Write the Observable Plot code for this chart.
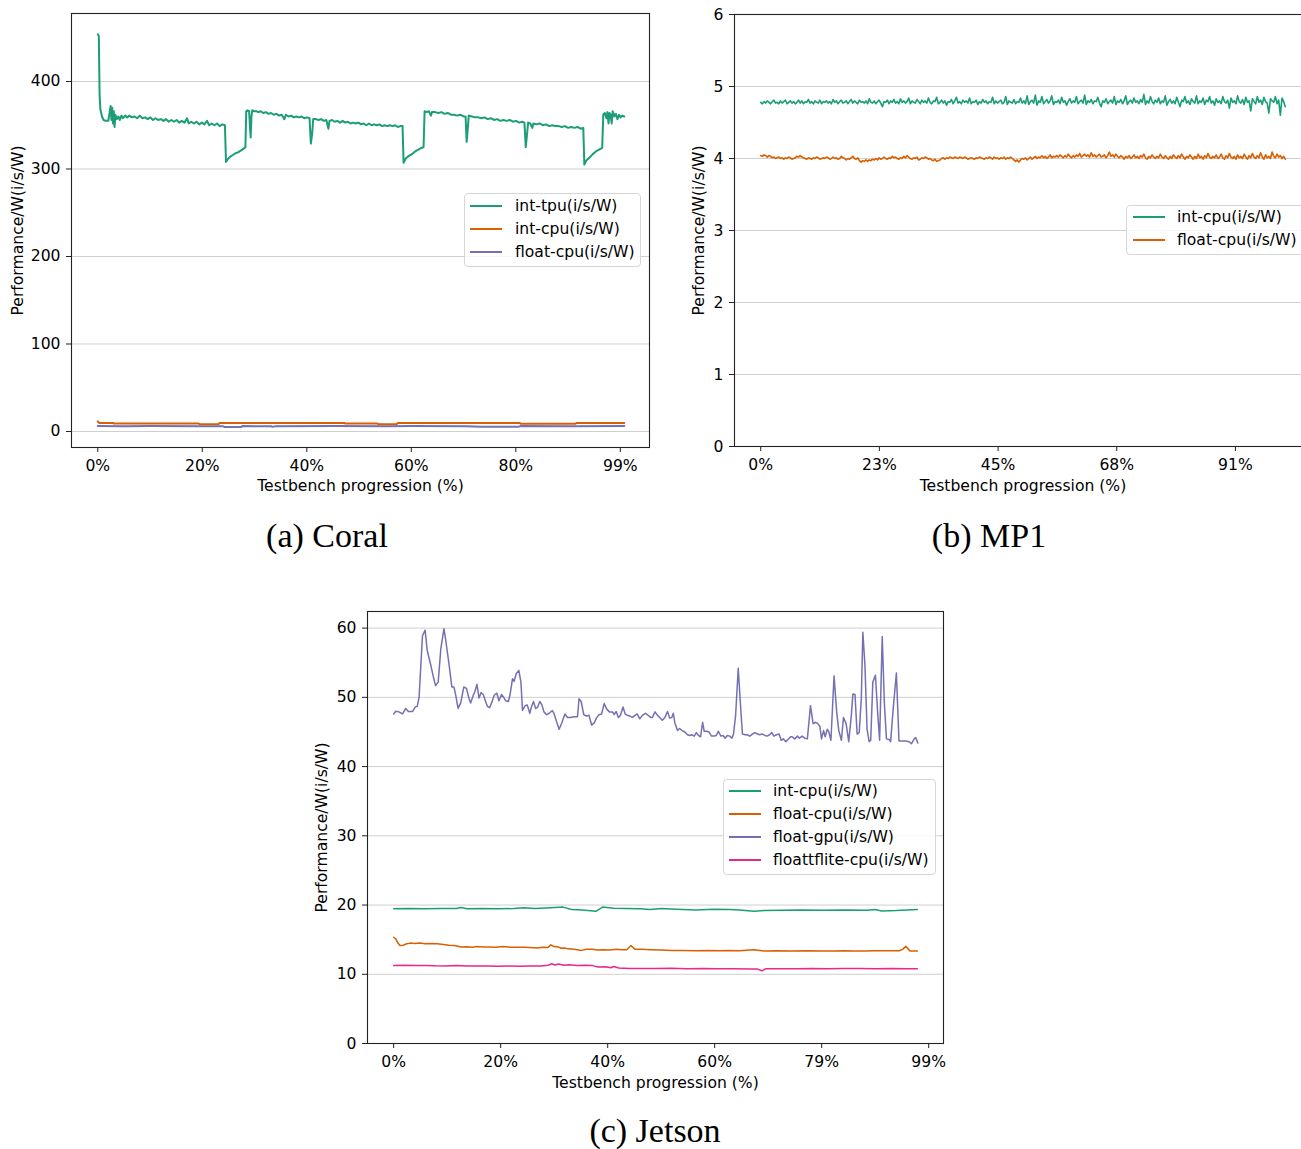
<!DOCTYPE html>
<html><head><meta charset="utf-8">
<script src="https://cdn.jsdelivr.net/npm/d3@7"></script>
<script src="https://cdn.jsdelivr.net/npm/@observablehq/plot@0.6"></script>
<style>
html,body{margin:0;padding:0;background:#fff;}
body{width:1301px;height:1149px;overflow:hidden;position:relative;font-family:"DejaVu Sans",sans-serif;}
.panel{position:absolute;width:660px;height:500px;}
.caption{position:absolute;font-family:"Liberation Serif","Times New Roman",serif;font-size:34px;line-height:34px;white-space:nowrap;transform:translateX(-50%);color:#000;}
.legend{position:absolute;box-sizing:border-box;border:1px solid #d6d6d6;border-radius:4px;background:rgba(255,255,255,0.8);}
.legend .sw{position:absolute;height:2px;}
.legend .lb{position:absolute;font-size:15.6px;line-height:16px;white-space:nowrap;color:#000;}
</style></head><body>
<div id="pa" class="panel" style="left:0;top:0"></div>
<div id="pb" class="panel" style="left:663px;top:0"></div>
<div id="pc" class="panel" style="left:296px;top:598px"></div>
<div class="caption" style="left:327px;top:519px">(a) Coral</div>
<div class="caption" style="left:989px;top:519px">(b) MP1</div>
<div class="caption" style="left:655px;top:1114px">(c) Jetson</div>
<script>
// ---------- DATA ----------
const xLabel = "Testbench progression (%)";
const yLabel = "Performance/W(i/s/W)";

// (a) Coral
const coralXTicks = [0, 19.89, 39.78, 59.67, 79.56, 99.45];
const coralXTickLabels = ["0%", "20%", "40%", "60%", "80%", "99%"];
const coralYTicks = [0, 100, 200, 300, 400];
const coralIntTpu = [[0,454],[0.2,452],[0.35,384],[0.5,368],[0.8,360],[1.1,356],[1.5,355],[2.0,355],[2.3,366],[2.45,372],[2.6,356],[2.75,370],[2.9,352],[3.05,366],[3.2,348],[3.35,362],[3.6,357],[3.9,360],[4.2,356],[4.5,361],[4.8,358],[5.2,361],[5.6,359],[6.0,361],[6.5,359],[7.0,360],[7.5,358],[8.0,361],[8.5,358],[9.0,359],[9.5,357],[10.0,359],[10.5,356],[11.0,358],[11.5,356],[12.0,357],[12.5,355],[13.0,357],[13.5,354],[14.0,356],[14.5,354],[15.0,356],[15.5,353],[16.0,355],[16.5,353],[17.0,358],[17.3,352],[17.8,354],[18.3,352],[18.8,354],[19.3,351],[19.8,353],[20.3,351],[20.8,355],[21.2,350],[21.7,352],[22.2,350],[22.7,352],[23.2,349],[23.7,351],[24.2,350],[24.4,308],[24.7,311],[25.2,314],[25.7,316],[26.2,318],[26.7,319],[27.2,321],[27.7,323],[28.1,325],[28.25,366],[28.5,367],[28.8,366],[29.0,345],[29.1,336],[29.25,360],[29.4,367],[29.8,366],[30.2,366],[30.6,365],[31.0,366],[31.5,364],[32.0,365],[32.5,363],[33.0,364],[33.5,362],[34.0,363],[34.5,361],[35.0,362],[35.5,357],[35.8,362],[36.3,360],[36.8,361],[37.3,359],[37.8,360],[38.3,359],[38.8,360],[39.3,358],[39.8,359],[40.3,358],[40.55,329],[40.8,340],[41.0,357],[41.5,357],[42.0,356],[42.5,357],[43.0,355],[43.5,356],[43.9,346],[44.1,355],[44.6,356],[45.1,354],[45.6,355],[46.1,353],[46.6,355],[47.1,353],[47.6,354],[48.1,352],[48.6,353],[49.1,352],[49.6,353],[50.1,351],[50.6,352],[51.1,350],[51.6,352],[52.1,350],[52.6,351],[53.1,350],[53.6,351],[54.1,349],[54.6,350],[55.1,349],[55.6,350],[56.1,349],[56.6,350],[57.1,348],[57.6,349],[58.0,349],[58.2,307],[58.6,312],[59.2,315],[59.8,317],[60.4,320],[61.0,322],[61.6,324],[62.0,325],[62.2,366],[62.6,365],[63.0,366],[63.4,361],[63.6,365],[64.2,365],[64.8,364],[65.4,365],[66.0,363],[66.6,364],[67.2,362],[67.8,362],[68.4,361],[69.0,362],[69.6,360],[70.0,360],[70.2,331],[70.4,345],[70.6,361],[71.2,360],[71.8,359],[72.4,359],[73.0,358],[73.6,359],[74.2,357],[74.8,358],[75.4,356],[76.0,357],[76.6,355],[77.2,356],[77.8,355],[78.4,356],[79.0,354],[79.6,355],[80.2,353],[80.8,354],[81.2,353],[81.45,325],[81.7,340],[81.9,353],[82.3,352],[82.7,347],[82.9,352],[83.5,351],[84.1,352],[84.7,350],[85.3,351],[85.9,349],[86.5,350],[87.1,349],[87.7,349],[88.3,348],[88.9,349],[89.5,347],[90.1,348],[90.7,347],[91.3,348],[91.9,346],[92.4,347],[92.6,305],[93.0,310],[93.6,313],[94.2,317],[94.8,320],[95.4,322],[96.0,324],[96.2,362],[96.5,364],[96.8,358],[97.0,365],[97.2,352],[97.4,364],[97.6,362],[97.8,352],[98.0,366],[98.3,360],[98.6,363],[98.9,357],[99.2,362],[99.5,359],[99.8,361],[100.2,360]];
const coralIntCpu = [[0,11.5],[0.3,9.8],[1,9.8],[2.9,9.8],[3.1,9.0],[10,9.1],[19.2,9.0],[19.4,8.3],[23.0,8.3],[23.2,9.8],[35,9.7],[46.9,9.8],[47.1,9.0],[53.2,9.0],[53.4,8.3],[56.9,8.3],[57.1,9.8],[70,9.7],[80.3,9.8],[80.5,8.8],[90.9,8.8],[91.1,9.8],[100.2,9.8]];
const coralFloatCpu = [[0,6.2],[5,6.0],[10,6.2],[20,6.0],[23.9,6.0],[24.1,5.2],[27.3,5.2],[27.5,6.2],[33,6.0],[33.3,5.3],[33.8,6.1],[45,6.2],[55,6.0],[60,6.2],[70,6.0],[73,5.4],[80,5.3],[80.5,6.2],[90,6.0],[100.2,6.2]];

// (b) MP1
const mp1XTicks = [0, 22.62, 45.25, 67.87, 90.5];
const mp1XTickLabels = ["0%", "23%", "45%", "68%", "91%"];
const mp1YTicks = [0, 1, 2, 3, 4, 5, 6];
const mp1IntCpu = [
4.78,4.76,4.79,4.77,4.80,4.78,4.76,4.79,4.81,4.77,4.78,4.76,4.80,4.77,4.79,4.81,4.76,4.78,4.80,4.77,
4.79,4.76,4.78,4.81,4.77,4.80,4.76,4.79,4.78,4.82,4.77,4.79,4.76,4.80,4.78,4.77,4.81,4.76,4.79,4.78,
4.80,4.77,4.79,4.76,4.82,4.78,4.80,4.76,4.79,4.81,4.77,4.78,4.80,4.76,4.79,4.82,4.77,4.80,4.78,4.76,
4.81,4.78,4.79,4.77,4.80,4.76,4.83,4.78,4.77,4.80,4.76,4.79,4.81,4.77,4.72,4.79,4.78,4.81,4.76,4.80,
4.78,4.82,4.77,4.79,4.76,4.83,4.78,4.80,4.77,4.79,4.84,4.76,4.80,4.78,4.77,4.82,4.79,4.76,4.81,4.78,
4.80,4.77,4.84,4.78,4.76,4.80,4.79,4.85,4.76,4.78,4.81,4.77,4.80,4.74,4.79,4.78,4.82,4.76,4.80,4.85,
4.77,4.79,4.76,4.81,4.78,4.80,4.77,4.84,4.76,4.79,4.78,4.81,4.75,4.79,4.77,4.82,4.78,4.80,4.76,4.79,
4.78,4.85,4.76,4.80,4.77,4.79,4.81,4.76,4.78,4.86,4.75,4.80,4.78,4.77,4.82,4.76,4.79,4.78,4.84,4.77,
4.80,4.76,4.87,4.75,4.79,4.81,4.77,4.88,4.74,4.80,4.78,4.86,4.76,4.79,4.82,4.77,4.80,4.87,4.75,4.79,
4.78,4.81,4.76,4.85,4.78,4.80,4.74,4.79,4.83,4.77,4.80,4.78,4.86,4.76,4.79,4.81,4.77,4.88,4.75,4.80,
4.78,4.82,4.76,4.80,4.79,4.85,4.77,4.72,4.80,4.78,4.83,4.76,4.79,4.81,4.77,4.86,4.75,4.80,4.78,4.82,
4.76,4.80,4.87,4.75,4.79,4.81,4.77,4.84,4.78,4.80,4.76,4.82,4.78,4.89,4.75,4.80,4.77,4.86,4.79,4.76,
4.81,4.78,4.84,4.76,4.80,4.78,4.87,4.74,4.79,4.82,4.77,4.80,4.76,4.85,4.78,4.72,4.81,4.79,4.86,4.77,
4.80,4.75,4.83,4.79,4.77,4.87,4.76,4.80,4.78,4.84,4.75,4.81,4.79,4.86,4.77,4.80,4.74,4.83,4.78,4.80,
4.76,4.86,4.79,4.77,4.81,4.70,4.84,4.78,4.80,4.76,4.87,4.79,4.77,4.82,4.75,4.85,4.78,4.80,4.66,4.83,
4.79,4.76,4.86,4.78,4.81,4.75,4.85,4.79,4.77,4.63,4.83,4.80,4.78,4.86,4.76,4.81,4.60,4.84,4.79,4.72];
const mp1FloatCpu = [
4.04,4.03,4.05,4.04,4.02,4.04,4.03,4.01,4.02,4.00,4.01,4.02,4.00,4.01,3.99,4.01,4.00,4.02,4.01,3.99,
4.00,4.01,4.03,4.02,4.04,4.02,4.01,4.00,3.99,4.01,4.00,3.99,4.01,4.00,4.02,4.01,3.99,4.00,4.01,4.00,
4.02,4.01,3.99,4.00,4.02,4.00,4.01,3.99,4.00,4.03,4.01,4.00,3.98,4.00,3.99,4.01,4.03,4.00,3.99,4.01,
3.97,3.95,3.97,3.96,3.98,3.96,3.98,3.97,3.99,3.98,4.00,3.98,4.01,3.99,4.00,4.02,4.00,3.99,4.01,4.00,
4.03,4.01,4.02,4.00,3.99,4.01,4.00,4.03,4.01,4.04,4.02,4.00,3.99,4.01,4.00,4.02,3.98,3.99,4.01,4.00,
4.02,4.01,3.99,4.00,3.98,3.97,3.99,3.96,3.97,3.98,4.00,4.01,3.99,4.01,4.00,4.02,4.01,4.00,4.02,4.01,
4.00,4.02,4.01,4.00,4.02,4.01,3.99,4.00,4.01,4.00,3.99,4.01,4.00,4.02,4.01,4.00,3.99,4.01,4.00,4.02,
4.01,3.99,4.02,4.00,4.01,3.99,4.01,4.00,4.02,3.99,4.01,4.00,4.02,4.00,3.98,3.96,3.98,3.95,3.98,4.00,
3.99,4.01,3.98,4.00,4.02,3.99,4.01,4.03,4.00,4.02,4.01,4.04,4.01,4.03,4.00,4.02,4.05,4.01,4.03,4.02,
4.04,4.02,4.05,4.03,4.01,4.04,4.02,4.06,4.03,4.01,4.04,4.02,4.05,4.03,4.07,4.02,4.04,4.06,4.03,4.05,
4.02,4.08,4.03,4.05,4.02,4.04,4.06,4.02,4.03,4.05,4.01,4.04,4.09,4.03,4.05,4.02,4.06,4.03,4.01,4.04,
4.02,3.99,4.03,4.01,4.04,4.00,4.02,4.05,4.01,4.03,4.00,4.04,4.02,4.06,4.01,3.99,4.03,4.01,4.05,4.02,
4.00,4.03,4.01,4.06,4.02,4.00,4.04,4.01,3.99,4.03,4.00,4.05,4.02,4.00,4.04,4.01,4.06,4.02,3.99,4.03,
4.01,4.05,4.02,3.99,4.03,4.00,4.06,4.01,4.03,3.99,4.04,4.01,4.07,4.02,4.00,4.03,4.01,4.05,4.00,4.02,
4.06,4.01,3.99,4.04,4.01,4.07,4.02,4.00,4.03,3.99,4.05,4.01,4.03,4.00,4.06,4.02,3.99,4.04,4.01,4.07,
4.02,4.00,4.04,4.01,4.08,4.02,3.99,4.05,4.01,4.03,4.00,4.09,4.03,4.01,4.06,4.02,4.04,4.00,4.03,3.99];

// (c) Jetson
const jetsonXTicks = [0, 20.43, 40.87, 61.3, 81.74, 102.17];
const jetsonXTickLabels = ["0%", "20%", "40%", "60%", "79%", "99%"];
const jetsonYTicks = [0, 10, 20, 30, 40, 50, 60];
const jetsonIntCpu = [[0,19.45],[3,19.5],[6,19.45],[9,19.5],[12,19.5],[12.9,19.65],[14,19.45],[17,19.5],[20,19.45],[23,19.5],[24.8,19.6],[27,19.5],[30,19.6],[32.3,19.7],[34,19.35],[36,19.3],[38.6,19.1],[39.9,19.7],[42,19.55],[44.5,19.5],[47,19.45],[49,19.35],[51.1,19.5],[54,19.4],[57.7,19.3],[61,19.4],[64.2,19.35],[66,19.3],[68.8,19.1],[70.8,19.2],[74,19.25],[78,19.3],[82,19.25],[86,19.3],[90.5,19.25],[91.9,19.35],[93.2,19.15],[96,19.2],[100,19.35]];
const jetsonFloatCpu = [[0,15.35],[0.4,15.1],[0.8,14.5],[1.2,14.15],[1.8,14.2],[2.5,14.4],[3.1,14.5],[4.0,14.45],[5.0,14.5],[6.0,14.42],[7.0,14.45],[8.3,14.4],[9.5,14.3],[10.5,14.2],[11.6,14.15],[12.9,13.95],[14,13.98],[15,13.92],[16,14.0],[17,13.95],[18.2,13.95],[19.5,13.9],[21,14.0],[22.5,13.9],[24.8,13.9],[26,13.85],[27.4,13.8],[28.5,13.9],[29.4,13.85],[30.0,14.25],[30.6,14.0],[31.4,13.95],[32,13.75],[32.6,13.8],[33.3,13.67],[34.5,13.6],[35.9,13.45],[36.8,13.6],[37.9,13.6],[39,13.5],[40,13.55],[41.2,13.5],[42.5,13.6],[43.5,13.55],[44.5,13.55],[45.3,14.15],[46.1,13.6],[47.5,13.6],[49,13.55],[51.1,13.5],[53,13.45],[55,13.45],[57.7,13.4],[60,13.45],[62,13.4],[64,13.45],[66,13.4],[68.8,13.55],[70.8,13.35],[73,13.4],[76,13.35],[79,13.38],[82,13.35],[84,13.35],[86,13.38],[88,13.35],[90,13.35],[92,13.38],[94,13.4],[96.5,13.4],[97.2,13.6],[97.8,14.05],[98.6,13.35],[100,13.35]];
const jetsonFloatGpu = [[0,47.6],[0.4,48.0],[1.0,47.9],[1.7,47.6],[2.3,48.4],[2.8,47.95],[3.6,47.95],[4.1,48.6],[4.5,48.7],[4.85,50.0],[5.5,58.9],[6.0,59.7],[6.4,56.8],[7.1,54.6],[7.5,53.2],[8.0,51.7],[8.5,52.2],[9.0,57.0],[9.6,59.9],[9.9,58.5],[10.6,54.6],[11.1,51.5],[11.5,51.5],[11.8,50.5],[12.3,48.4],[12.8,49.2],[13.4,51.5],[13.9,51.3],[14.4,49.8],[14.7,49.2],[15.2,50.3],[15.5,50.8],[15.9,51.9],[16.3,49.9],[16.7,50.7],[17.1,50.4],[17.6,49.3],[17.9,48.7],[18.3,48.5],[18.7,49.2],[19.2,50.3],[19.7,50.6],[20.1,49.5],[20.6,50.4],[21.1,49.9],[21.4,49.5],[21.9,49.4],[22.2,50.3],[22.7,52.7],[23.0,52.3],[23.4,53.4],[23.9,53.9],[24.3,52.2],[24.6,48.1],[25.1,48.8],[25.5,48.9],[26.0,47.7],[26.3,48.6],[26.7,49.4],[27.1,48.4],[27.5,48.6],[27.9,49.4],[28.3,48.9],[28.7,47.9],[29.2,47.5],[29.7,47.7],[30.3,48.1],[30.6,47.7],[31.1,46.5],[31.6,45.4],[32.1,46.3],[32.7,47.6],[33.2,47.1],[33.8,47.1],[34.4,47.2],[35.1,47.2],[35.4,49.8],[35.8,49.4],[36.3,47.5],[36.8,47.3],[37.3,47.4],[37.8,46.0],[38.3,46.3],[38.7,47.0],[39.2,47.5],[39.7,47.6],[40.2,49.1],[40.7,48.3],[41.2,47.9],[41.8,47.9],[42.1,47.5],[42.5,47.95],[42.9,47.1],[43.3,47.4],[43.8,48.6],[44.2,47.6],[44.6,47.4],[45.1,47.3],[45.6,47.1],[46.1,47.4],[46.5,47.6],[47.0,46.9],[47.5,47.4],[48.1,47.7],[48.6,47.4],[49.1,47.1],[49.4,47.1],[49.9,47.9],[50.4,47.4],[50.8,47.1],[51.3,46.7],[51.8,47.1],[52.3,47.95],[52.7,47.0],[53.1,47.1],[53.4,47.7],[53.7,46.3],[54.2,45.2],[54.6,45.5],[55.1,45.2],[55.6,45.0],[56.1,44.6],[56.5,44.5],[56.9,44.6],[57.4,44.4],[57.8,44.9],[58.2,44.5],[58.6,44.3],[59.0,46.4],[59.3,45.1],[59.8,45.1],[60.2,45.0],[60.7,44.4],[61.2,44.4],[61.6,44.5],[62.0,45.1],[62.5,44.4],[62.9,44.5],[63.3,44.1],[63.7,44.5],[64.2,44.4],[64.6,44.1],[64.9,44.7],[65.3,47.4],[65.8,54.2],[66.2,49.3],[66.6,44.7],[67.1,44.6],[67.5,44.6],[68.0,44.4],[68.5,44.7],[69.0,44.9],[69.5,44.7],[69.9,44.6],[70.4,44.7],[70.9,44.5],[71.3,44.4],[71.8,44.6],[72.2,44.9],[72.6,44.4],[73.1,44.6],[73.6,44.7],[74.0,43.8],[74.4,44.0],[74.9,43.6],[75.3,43.9],[75.8,44.3],[76.1,44.3],[76.6,44.0],[77.1,44.4],[77.5,44.1],[78.0,44.4],[78.5,44.1],[79.0,44.0],[79.6,48.8],[80.1,46.2],[80.6,46.4],[81.0,46.2],[81.4,45.8],[81.7,44.0],[82.1,45.2],[82.4,44.3],[82.8,45.4],[83.1,45.0],[83.5,43.8],[84.1,53.1],[84.6,47.9],[85.0,45.2],[85.5,43.8],[85.9,47.1],[86.4,46.2],[86.9,43.6],[87.4,47.4],[87.7,50.5],[88.1,50.4],[88.5,44.7],[88.9,44.9],[89.3,49.8],[89.6,59.4],[90.0,54.6],[90.4,45.4],[90.8,43.6],[91.1,43.8],[91.5,52.2],[92.0,53.2],[92.4,48.1],[92.8,43.8],[93.3,58.8],[93.7,49.3],[94.1,44.0],[94.6,43.9],[94.9,43.6],[95.4,48.4],[96.0,53.5],[96.5,43.7],[97.1,43.7],[97.8,43.7],[98.4,43.6],[98.9,43.3],[99.4,44.0],[99.7,44.2],[100.1,43.4]];
const jetsonTfliteCpu = [[0,11.27],[2,11.3],[4,11.25],[6,11.28],[8,11.22],[10,11.2],[12,11.25],[14,11.2],[16,11.18],[18,11.2],[20,11.15],[22,11.18],[24,11.15],[26,11.18],[28,11.2],[29.5,11.3],[30.2,11.52],[30.8,11.35],[31.5,11.48],[32.5,11.3],[33.5,11.38],[35,11.25],[36.5,11.3],[38,11.25],[39,11.05],[40.5,11.1],[41.5,10.95],[42,11.12],[43,10.9],[45,10.85],[48,10.85],[50,10.82],[53,10.88],[56,10.8],[59,10.82],[62,10.78],[65,10.8],[68,10.75],[69.5,10.75],[70.3,10.5],[71,10.78],[74,10.8],[77,10.78],[80,10.82],[83,10.8],[86,10.82],[89,10.85],[92,10.8],[95,10.82],[98,10.78],[100,10.8]];

// ---------- STYLE ----------
const C = {green: "#1b9e77", orange: "#d95f02", purple: "#7570b3", pink: "#e7298a"};
const byIndex = vals => vals.map((v, i) => [i * 100 / (vals.length - 1), v]);

function makePanel(o) {
  const fmt = new Map(o.xTicks.map((t, i) => [t, o.xTickLabels[i]]));
  return Plot.plot({
    width: 660, height: 500,
    marginLeft: o.m[0], marginRight: o.m[1], marginTop: o.m[2], marginBottom: o.m[3],
    x: {domain: [-5, 105]},
    y: {domain: o.yDomain},
    style: {fontFamily: "'DejaVu Sans', sans-serif", fontSize: "15.6px", color: "#000", background: "transparent", overflow: "visible", maxWidth: "none"},
    marks: [
      Plot.gridY(o.yTicks, {stroke: "#cfcfcf", strokeOpacity: 1, strokeWidth: 1}),
      ...o.series.map(s => Plot.line(s.data, {x: d => d[0], y: d => d[1], stroke: s.color, strokeWidth: o.lw})),
      Plot.frame({stroke: "#222", strokeWidth: 1.1}),
      Plot.axisX(o.xTicks, {tickFormat: d => fmt.get(d), tickSize: 5, tickPadding: 7, label: null, stroke: "#222"}),
      Plot.axisY(o.yTicks, {tickFormat: d => String(d), tickSize: 5, tickPadding: 6, label: null, stroke: "#222"}),
      Plot.text([xLabel], {text: d => d, frameAnchor: "bottom", textAnchor: "middle", dy: o.xLabelDy}),
      Plot.text([yLabel], {text: d => d, frameAnchor: "left", textAnchor: "middle", dx: o.yLabelDx, rotate: -90})
    ]
  });
}

const seriesA = [
  {name: "int-tpu(i/s/W)", color: C.green, data: coralIntTpu},
  {name: "int-cpu(i/s/W)", color: C.orange, data: coralIntCpu},
  {name: "float-cpu(i/s/W)", color: C.purple, data: coralFloatCpu}
];
const seriesB = [
  {name: "int-cpu(i/s/W)", color: C.green, data: byIndex(mp1IntCpu)},
  {name: "float-cpu(i/s/W)", color: C.orange, data: byIndex(mp1FloatCpu)}
];
const seriesC = [
  {name: "int-cpu(i/s/W)", color: C.green, data: jetsonIntCpu},
  {name: "float-cpu(i/s/W)", color: C.orange, data: jetsonFloatCpu},
  {name: "float-gpu(i/s/W)", color: C.purple, data: jetsonFloatGpu},
  {name: "floattflite-cpu(i/s/W)", color: C.pink, data: jetsonTfliteCpu}
];

document.getElementById("pa").append(makePanel({series: seriesA, yDomain: [-18.3, 477.7], yTicks: coralYTicks, xTicks: coralXTicks, xTickLabels: coralXTickLabels, m: [71, 11, 13, 53], xLabelDy: 43, yLabelDx: -54, lw: 2}));
document.getElementById("pb").append(makePanel({series: seriesB, yDomain: [0, 6], yTicks: mp1YTicks, xTicks: mp1XTicks, xTickLabels: mp1XTickLabels, m: [71, 12, 14, 54], xLabelDy: 44, yLabelDx: -36, lw: 1.6}));
document.getElementById("pc").append(makePanel({series: seriesC, yDomain: [0, 62.4], yTicks: jetsonYTicks, xTicks: jetsonXTicks, xTickLabels: jetsonXTickLabels, m: [71, 13, 13, 55], xLabelDy: 44, yLabelDx: -46, lw: 1.5}));

function legend(series, box) {
  const d = document.createElement("div");
  d.className = "legend";
  Object.assign(d.style, {left: box.x + "px", top: box.y + "px", width: box.w + "px", height: box.h + "px"});
  series.forEach((s, i) => {
    const cy = box.first + i * 23;
    const sw = document.createElement("div");
    sw.className = "sw";
    Object.assign(sw.style, {left: box.lx + "px", width: "32px", top: (cy - 1) + "px", background: s.color});
    const lb = document.createElement("div");
    lb.className = "lb";
    lb.textContent = s.name;
    Object.assign(lb.style, {left: box.tx + "px", top: (cy - 8) + "px"});
    d.append(sw, lb);
  });
  document.body.append(d);
}
legend(seriesA, {x: 464, y: 193, w: 177, h: 74, first: 12, lx: 5, tx: 50});
legend(seriesB, {x: 1126, y: 205, w: 200, h: 50, first: 11, lx: 6, tx: 50});
legend(seriesC, {x: 723, y: 779, w: 213, h: 96, first: 11, lx: 5, tx: 49});
</script>
</body></html>
